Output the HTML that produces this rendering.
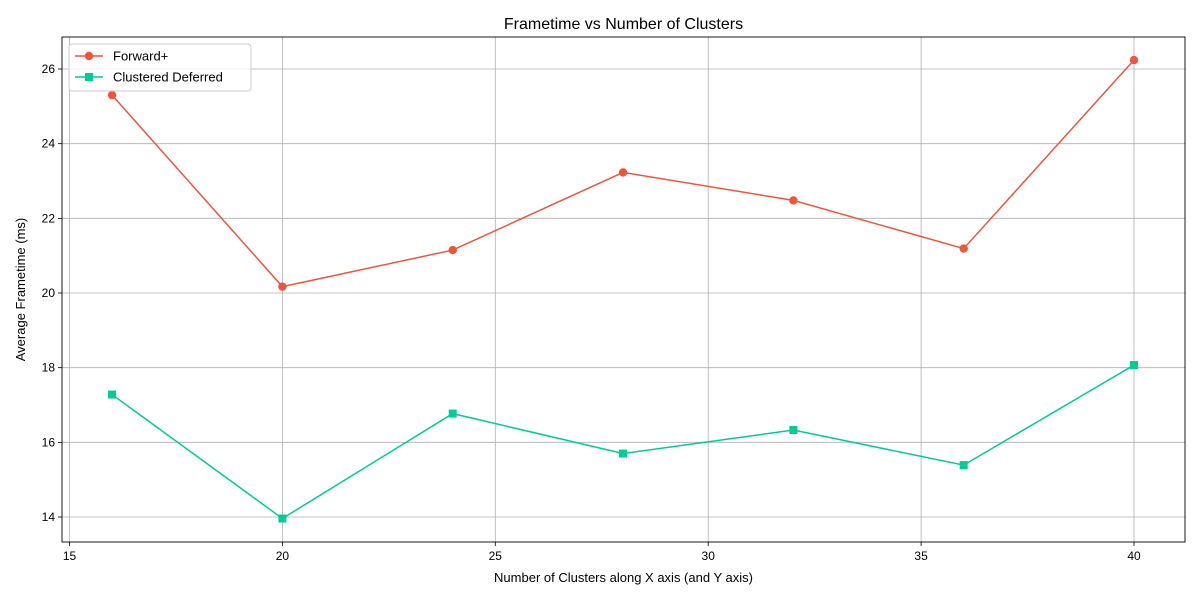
<!DOCTYPE html>
<html><head><meta charset="utf-8"><style>
body{margin:0;background:#fff;font-family:"Liberation Sans","DejaVu Sans",sans-serif;}
</style></head><body>
<svg id="chart" width="1200" height="600" xmlns="http://www.w3.org/2000/svg"></svg>
<script>
const xValues = [16, 20, 24, 28, 32, 36, 40];
const forwardPlus = [25.3, 20.17, 21.15, 23.23, 22.48, 21.19, 26.24];
const clusteredDeferred = [17.28, 13.96, 16.77, 15.70, 16.33, 15.39, 18.07];
const xTicks = [15, 20, 25, 30, 35, 40];
const yTicks = [14, 16, 18, 20, 22, 24, 26];

const L=62, R=1185, T=37, B=542;
const sx = v => 69.5 + (v - 15) * (1134 - 69.5) / 25;
const sy = v => 517 - (v - 14) * (517 - 69) / 12;
const svg = document.getElementById('chart');
const NS='http://www.w3.org/2000/svg';
function mk(tag, attrs, parent){const e=document.createElementNS(NS,tag);for(const k in attrs)e.setAttribute(k,attrs[k]);(parent||svg).appendChild(e);return e;}

// grid
xTicks.forEach(t=>{
  const g=mk('line',{x1:sx(t),x2:sx(t),y1:T,y2:B,stroke:'#b0b0b0','stroke-width':0.8});
  
  
  const tk=mk('line',{x1:sx(t),x2:sx(t),y1:B,y2:B+4,stroke:'#000','stroke-width':0.8});
  
  
  const tx=mk('text',{x:sx(t),y:B+18,'text-anchor':'middle','font-size':12,fill:'#000'});
  tx.textContent=t;
  
  
});
yTicks.forEach(t=>{
  const g=mk('line',{x1:L,x2:R,y1:sy(t),y2:sy(t),stroke:'#b0b0b0','stroke-width':0.8});
  
  
  const tk=mk('line',{x1:L-4,x2:L,y1:sy(t),y2:sy(t),stroke:'#000','stroke-width':0.8});
  
  
  const tx=mk('text',{x:L-7,y:sy(t)+4,'text-anchor':'end','font-size':12,fill:'#000'});
  tx.textContent=t;
  
  
});

function series(vals,color,marker,name){
  const pl=mk('polyline',{points:vals.map((v,i)=>sx(xValues[i])+','+sy(v)).join(' '),fill:'none',stroke:color,'stroke-width':1.5});
  
  
  vals.forEach((v,i)=>{
    let m;
    if(marker==='o') m=mk('circle',{cx:sx(xValues[i]),cy:sy(v),r:4.2,fill:color});
    else m=mk('rect',{x:sx(xValues[i])-4,y:sy(v)-4,width:8,height:8,fill:color});
    
    
  });
}
series(forwardPlus,'#ef553b','o','forward-plus');
series(clusteredDeferred,'#00cc96','s','clustered-deferred');

const frame=mk('rect',{x:L,y:T,width:R-L,height:B-T,fill:'none',stroke:'#000','stroke-width':0.9});



const title=mk('text',{x:(L+R)/2,y:29,'text-anchor':'middle','font-size':16,fill:'#000'});
title.textContent='Frametime vs Number of Clusters';


const xl=mk('text',{x:(L+R)/2,y:582,'text-anchor':'middle','font-size':13,fill:'#000'});
xl.textContent='Number of Clusters along X axis (and Y axis)';


const yl=mk('text',{x:0,y:0,'text-anchor':'middle','font-size':13,fill:'#000',transform:'translate(25,'+((T+B)/2)+') rotate(-90)'});
yl.textContent='Average Frametime (ms)';



// legend
const lg=mk('g',{});


mk('rect',{x:69,y:44,width:182,height:47,rx:3,fill:'#fff','fill-opacity':0.8,stroke:'#ccc'},lg);
const ents=[['Forward+','#ef553b','o',56],['Clustered Deferred','#00cc96','s',77]];
ents.forEach(e=>{
  const g=mk('g',{},lg);
  
  
  mk('line',{x1:75,x2:103,y1:e[3],y2:e[3],stroke:e[1],'stroke-width':1.5},g);
  if(e[2]==='o') mk('circle',{cx:89,cy:e[3],r:4.2,fill:e[1]},g);
  else mk('rect',{x:85,y:e[3]-4,width:8,height:8,fill:e[1]},g);
  const t=mk('text',{x:113,y:e[3]+4.5,'font-size':13,fill:'#000'},g);
  t.textContent=e[0];
});
</script>
</body></html>
